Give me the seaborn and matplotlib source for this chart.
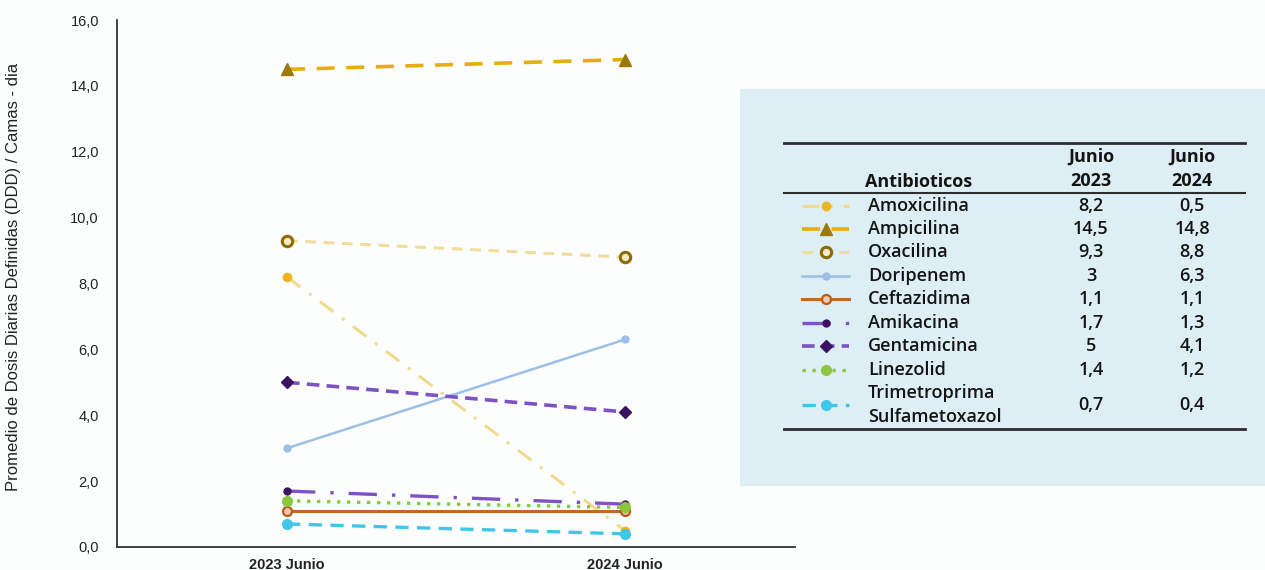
import matplotlib
matplotlib.use("Agg")
import matplotlib.pyplot as plt
from matplotlib.lines import Line2D
from matplotlib.patches import Rectangle
import pandas as pd
import seaborn as sns

# ---- data -------------------------------------------------------------
periods = ["2023 Junio", "2024 Junio"]
antibiotics = ["Amoxicilina", "Ampicilina", "Oxacilina", "Doripenem", "Ceftazidima",
               "Amikacina", "Gentamicina", "Linezolid", "Trimetroprima\nSulfametoxazol"]
ddd_2023 = [8.2, 14.5, 9.3, 3.0, 1.1, 1.7, 5.0, 1.4, 0.7]
ddd_2024 = [0.5, 14.8, 8.8, 6.3, 1.1, 1.3, 4.1, 1.2, 0.4]
yticks = [0, 2, 4, 6, 8, 10, 12, 14, 16]

W, H = 1265, 570

# ---- per-series styling ----------------------------------------------
styles = {
    "Amoxicilina": dict(color="#F1D98E", linestyle=(0, (5.5, 3.5, 1, 3.5)), linewidth=2.2,
                        marker="o", markersize=6, markerfacecolor="#EDB61C",
                        markeredgecolor="#EDB61C", markeredgewidth=1),
    "Ampicilina": dict(color="#E6AD0C", linestyle=(0, (5, 3.2)), linewidth=2.6,
                       marker="^", markersize=8, markerfacecolor="#9C7A08",
                       markeredgecolor="#9C7A08", markeredgewidth=1),
    "Oxacilina": dict(color="#F2DC9C", linestyle=(0, (3.5, 2.5)), linewidth=2.2,
                      marker="o", markersize=7.5, markerfacecolor="#F6EBC8",
                      markeredgecolor="#8C6C06", markeredgewidth=2.2),
    "Doripenem": dict(color="#9DBFE6", linestyle="-", linewidth=1.8,
                      marker="o", markersize=5, markerfacecolor="#9DBFE6",
                      markeredgecolor="#9DBFE6", markeredgewidth=1),
    "Ceftazidima": dict(color="#C6672A", linestyle="-", linewidth=2.2,
                        marker="o", markersize=6.5, markerfacecolor="#F1C9A6",
                        markeredgecolor="#B85A1E", markeredgewidth=1.6),
    "Amikacina": dict(color="#7D52C2", linestyle=(0, (8.5, 4.5, 1, 4.5)), linewidth=2.4,
                      marker="o", markersize=5, markerfacecolor="#3A1262",
                      markeredgecolor="#3A1262", markeredgewidth=1),
    "Gentamicina": dict(color="#7D52C2", linestyle=(0, (3.5, 2)), linewidth=2.6,
                        marker="D", markersize=6, markerfacecolor="#3A1262",
                        markeredgecolor="#3A1262", markeredgewidth=1),
    "Linezolid": dict(color="#8CC63F", linestyle=(0, (1, 2)), linewidth=2.4,
                      marker="o", markersize=7, markerfacecolor="#8CC63F",
                      markeredgecolor="#8CC63F", markeredgewidth=1),
    "Trimetroprima\nSulfametoxazol": dict(color="#3EC7E8", linestyle=(0, (4, 2.5)), linewidth=2.4,
                                          marker="o", markersize=7, markerfacecolor="#3EC7E8",
                                          markeredgecolor="#3EC7E8", markeredgewidth=1),
}

df = pd.DataFrame({
    "antibiotico": antibiotics * 2,
    "periodo": [periods[0]] * len(antibiotics) + [periods[1]] * len(antibiotics),
    "ddd": ddd_2023 + ddd_2024,
})

fig = plt.figure(figsize=(W / 100, H / 100), dpi=100)
fig.patch.set_facecolor("#FCFEFE")


def fx(px):
    return px / W


def fy(py):
    return 1 - py / H


ax = fig.add_axes([fx(117), fy(547), fx(795) - fx(117), fy(20) - fy(547)])
ax.set_facecolor("none")

for name in antibiotics:
    sub = df[df["antibiotico"] == name]
    sns.lineplot(data=sub, x="periodo", y="ddd", ax=ax, errorbar=None,
                 sort=False, legend=False, **styles[name])

ax.set_xlim(-0.503, 1.503)
ax.set_ylim(0, 16)
ax.set_yticks(yticks)
ax.set_yticklabels([f"{v:.1f}".replace(".", ",") for v in yticks],
                   fontsize=10.5, family="Liberation Sans", color="#222222")
ax.tick_params(axis="y", length=0, pad=13)
ax.tick_params(axis="x", length=0, pad=8)
for lbl in ax.get_xticklabels():
    lbl.set_fontsize(10.5)
    lbl.set_family("Liberation Sans")
    lbl.set_fontweight("bold")
    lbl.set_color("#222222")
ax.set_xlabel("")
ax.set_ylabel("")
sns.despine(ax=ax)
for side in ("left", "bottom"):
    ax.spines[side].set_color("#333333")
    ax.spines[side].set_linewidth(1.3)

fig.text(fx(14), fy(277), "Promedio de Dosis Diarias Definidas (DDD) / Camas - dia",
         rotation=90, ha="center", va="center", fontsize=12,
         family="Liberation Sans", color="#222222")

# ---- summary table panel ---------------------------------------------
fig.add_artist(Rectangle((fx(740), fy(486)), fx(1265) - fx(740), fy(89) - fy(486),
                         transform=fig.transFigure, facecolor="#DDEFF5",
                         edgecolor="none", zorder=0))

rule_kw = dict(color="#2E2E2E", linewidth=2, transform=fig.transFigure)
for py in (143, 429):
    fig.add_artist(Line2D([fx(784), fx(1245)], [fy(py), fy(py)], **rule_kw))
fig.add_artist(Line2D([fx(784), fx(1245)], [fy(193), fy(193)],
                      color="#2E2E2E", linewidth=1.5, transform=fig.transFigure))

tfont = dict(family="Open Sans", fontsize=13, color="#141414")
col_x = [1091, 1192]
fig.text(fx(865), fy(182), "Antibioticos", ha="left", va="center",
         fontweight="bold", **tfont)
for cx, yr in zip(col_x, ["2023", "2024"]):
    fig.text(fx(cx), fy(157), "Junio", ha="center", va="center", fontweight="bold", **tfont)
    fig.text(fx(cx), fy(181), yr, ha="center", va="center", fontweight="bold", **tfont)

row_y = [206, 229, 252, 276, 299, 323, 346, 370, 405]
for name, py, v23, v24 in zip(antibiotics, row_y, ddd_2023, ddd_2024):
    st = dict(styles[name])
    lw = st.pop("linewidth")
    handle = Line2D([fx(802), fx(826), fx(849)], [fy(py)] * 3, transform=fig.transFigure,
                    linewidth=lw, markevery=[1], **st)
    fig.add_artist(handle)
    fig.text(fx(868), fy(py), name, ha="left", va="center", linespacing=1.4,
             fontweight="semibold", **tfont)
    for cx, v in zip(col_x, (v23, v24)):
        txt = f"{v:g}".replace(".", ",")
        fig.text(fx(cx), fy(py), txt, ha="center", va="center",
                 fontweight="semibold", **tfont)

fig.savefig("out.png", dpi=100, facecolor=fig.get_facecolor())
